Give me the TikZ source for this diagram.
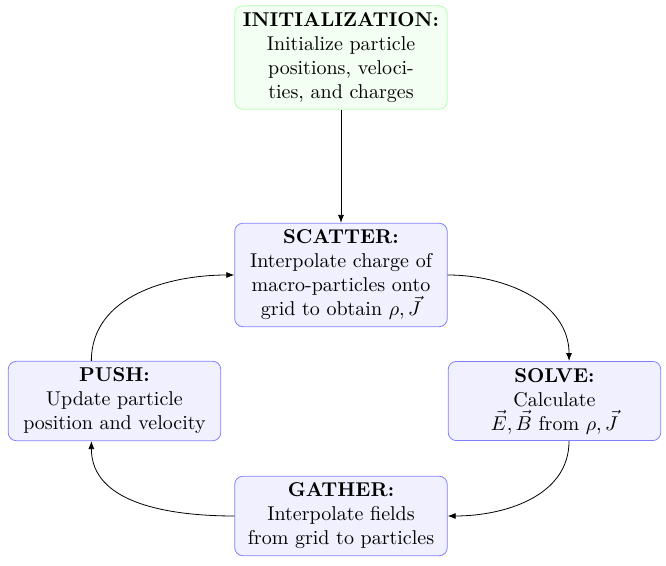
\documentclass[tikz,border=0pt]{standalone}
\usetikzlibrary{arrows.meta}
\begin{document}
\begin{tikzpicture}[
  box/.style={draw=blue!50, fill=blue!6, rounded corners=4pt, text width=3.5cm, align=center, inner sep=0.3333em},
  initbox/.style={box, draw=green!30, fill=green!5},
  conn/.style={-{Latex[length=4pt,width=3pt]}, black}
]
\useasboundingbox (0,0) rectangle (333pt,-283pt);
\node[initbox] (init) at (170.5pt,-28.75pt) {\textbf{INITIALIZATION:}\\ Initialize particle\\ positions, veloci-\\ ties, and charges};
\node[box] (scatter) at (170.5pt,-137.5pt) {\textbf{SCATTER:}\\ Interpolate charge of\\ macro-particles onto\\ grid to obtain $\rho, \vec{J}$};
\node[box] (push) at (57.25pt,-200.5pt) {\textbf{PUSH:}\\ Update particle\\ position and velocity};
\node[box] (solve) at (277.25pt,-200.5pt) {\textbf{SOLVE:}\\ Calculate\\ $\vec{E}, \vec{B}$ from $\rho, \vec{J}$};
\node[box] (gather) at (170.5pt,-258pt) {\textbf{GATHER:}\\ Interpolate fields\\ from grid to particles};
\draw[conn] (init) -- (scatter);
\draw[conn] (scatter.east) to[out=0,in=90] (solve.70);
\draw[conn] (solve.-70) to[out=-90,in=0] (gather.east);
\draw[conn] (gather.west) to[out=180,in=-90] (push.240);
\draw[conn] (push.120) to[out=90,in=180] (scatter.west);
\end{tikzpicture}
\end{document}
